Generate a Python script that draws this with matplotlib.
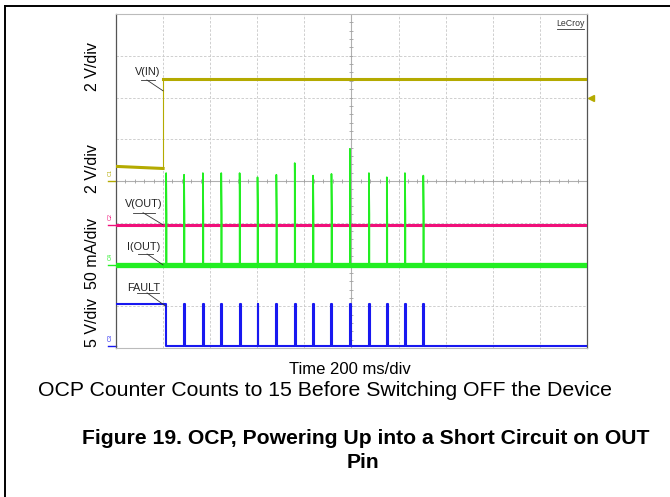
import numpy as np
import matplotlib
matplotlib.use("Agg")
import matplotlib.pyplot as plt
from matplotlib.lines import Line2D

plt.rcParams['font.family'] = ['Liberation Sans', 'DejaVu Sans']

# scope settings: 200 ms/div, 10 divisions, 8 vertical divisions
ms_per_div = 200
n_xdiv = 10
n_ydiv = 8

# V(IN), channel 1, 2 V/div
vin_t = [0, 200, 200, 2000]
vin_v = [0.7, 0.6, 4.9, 4.9]
vin_scale = 2.0
vin_offset = 0.0

# V(OUT), channel 2, 2 V/div
vout_t = [0, 2000]
vout_v = [0.0, 0.0]
vout_offset = -1.05

# OCP events (ms) and I(OUT) spike peaks (mA), channel 4, 50 mA/div
ocp_t = [213, 289, 369, 447, 525, 601, 681, 759, 837, 915, 993, 1074, 1150, 1227, 1305]
ocp_peak = [110, 108, 110, 110, 110, 105, 108, 122, 107, 109, 139, 110, 105, 110, 107]
iout_scale = 50.0
iout_offset = -2.01

# FAULT, channel 3, 5 V/div
fault_high = 5.0
fault_drop = 213
fault_scale = 5.0
fault_offset = -3.95
pulse_w = 4

c_vin = '#b4aa00'
c_vout = '#f0107a'
c_iout = '#22ee22'
c_fault = '#1818f0'

# build step traces from the event lists
it, iv = [0], [0.0]
for t, p in zip(ocp_t, ocp_peak):
    it += [t, t, t + 2, t + 2]
    iv += [0.0, p, p * 0.55, 0.0]
it.append(2000)
iv.append(0.0)

ft, fv = [0, fault_drop, fault_drop], [fault_high, fault_high, 0.0]
for t in ocp_t[1:]:
    ft += [t, t, t + pulse_w, t + pulse_w]
    fv += [0.0, fault_high, fault_high, 0.0]
ft.append(2000)
fv.append(0.0)

fig = plt.figure(figsize=(6.7, 4.97), dpi=100)
ax = fig.add_axes([0.1731, 0.2998, 0.703, 0.672])
ax.set_xlim(0, ms_per_div * n_xdiv)
ax.set_ylim(-n_ydiv / 2, n_ydiv / 2)

# graticule
for k in range(1, n_xdiv):
    if k != n_xdiv // 2:
        ax.axvline(k * ms_per_div, color='#c8c8c8', lw=0.6, ls=(0, (3, 2)), zorder=0)
for k in range(-n_ydiv // 2 + 1, n_ydiv // 2):
    if k != 0:
        ax.axhline(k, color='#c8c8c8', lw=0.6, ls=(0, (3, 2)), zorder=0)
ax.axvline(1000, color='#b0b0b0', lw=0.8, zorder=0)
ax.axhline(0, color='#b0b0b0', lw=0.8, zorder=0)
mt = np.arange(0, 2001, ms_per_div / 5)
ax.plot(mt, np.zeros_like(mt), ls='none', marker='|', ms=3, color='#a0a0a0', mew=0.6, zorder=0)
my = np.arange(-4, 4.01, 0.2)
ax.plot(np.full_like(my, 1000), my, ls='none', marker='_', ms=3, color='#a0a0a0', mew=0.6, zorder=0)

for s in ['left', 'right']:
    ax.spines[s].set_color('#555555')
    ax.spines[s].set_linestyle((0, (4, 1)))
    ax.spines[s].set_linewidth(0.9)
for s in ['top', 'bottom']:
    ax.spines[s].set_color('#bbbbbb')
    ax.spines[s].set_linewidth(0.8)
ax.set_xticks([])
ax.set_yticks([])

# traces
ax.plot(vin_t[:2], np.array(vin_v[:2]) / vin_scale + vin_offset, color=c_vin, lw=2.2, zorder=3)
ax.plot(vin_t[1:3], np.array(vin_v[1:3]) / vin_scale + vin_offset, color=c_vin, lw=0.8, zorder=3)
ax.plot(vin_t[2:], np.array(vin_v[2:]) / vin_scale + vin_offset, color=c_vin, lw=2.2, zorder=3)
ax.plot(vout_t, np.array(vout_v) / vin_scale + vout_offset, color=c_vout, lw=2.2, zorder=3)
ax.plot(ft, np.array(fv) / fault_scale + fault_offset, color=c_fault, lw=1.5, zorder=3)
ax.plot(it, np.array(iv) / iout_scale + iout_offset, color=c_iout, lw=1.2, zorder=4)
ax.plot([0, 2000], [iout_offset, iout_offset], color=c_iout, lw=3.8, zorder=4)

# trace labels with leaders
labels = [
    ('V(IN)', 136, 2.61, [105, 166], 2.42, 131, 200, 2.16),
    ('V(OUT)', 119, -0.55, [72, 166], -0.76, 115, 200, -1.05),
    ('I(OUT)', 117, -1.58, [94, 157], -1.75, 132, 200, -2.01),
    ('FAULT', 119, -2.56, [89, 183], -2.68, 132, 209, -2.99),
]
for txt, tx, ty, ul, uy, d0, d1, dy in labels:
    ax.text(tx, ty, txt, ha='center', va='center', fontsize=7.8, color='#222222', zorder=5)
    ax.plot(ul, [uy, uy], color='#333333', lw=0.6, zorder=5)
    ax.plot([d0, d1], [uy, dy], color='#333333', lw=0.6, zorder=5)

ax.text(0.995, 0.985, 'LeCroy', transform=ax.transAxes, ha='right', va='top',
        fontsize=6.3, color='#333333')
ax.plot([0.937, 0.993], [0.955, 0.955], transform=ax.transAxes, color='#333333', lw=0.6)

# channel markers on the left edge
yt = ax.get_yaxis_transform()
for name, lvl, col in [('C1', vin_offset, c_vin), ('C2', vout_offset, c_vout),
                       ('C4', iout_offset, c_iout), ('C3', fault_offset, c_fault)]:
    ax.text(-0.012, lvl + 0.12, name, transform=yt, rotation=90, fontsize=4,
            color=col, ha='center', va='bottom')
    ax.plot([-0.016, 0], [lvl, lvl], transform=yt, color=col, lw=1, clip_on=False)
ax.plot([1.008], [2.0], transform=yt, marker='<', ms=4, color=c_vin, clip_on=False)

# volts/div labels
for txt, y in [('2 V/div', 2.73), ('2 V/div', 0.3), ('50 mA/div', -1.74), ('5 V/div', -3.4)]:
    ax.text(-0.049, y, txt, transform=yt, rotation=90, ha='center', va='center', fontsize=11.5)

fig.text(350 / 670, 1 - 369 / 497, 'Time 200 ms/div', ha='center', va='center', fontsize=12)
fig.text(325 / 670, 1 - 391 / 497, 'OCP Counter Counts to 15 Before Switching OFF the Device',
         ha='center', va='center', fontsize=15.3)
fig.text(366 / 670, 1 - 438 / 497, 'Figure 19. OCP, Powering Up into a Short Circuit on OUT',
         ha='center', va='center', fontsize=15.2, fontweight='bold')
fig.text(363 / 670, 1 - 463 / 497, 'Pin', ha='center', va='center', fontsize=15.2, fontweight='bold')

# page border
fig.add_artist(Line2D([5 / 670, 1], [1 - 6 / 497, 1 - 6 / 497], color='black', lw=1.4))
fig.add_artist(Line2D([5 / 670, 5 / 670], [0, 1 - 6 / 497], color='black', lw=1.4))

fig.savefig('out.png', dpi=100)
